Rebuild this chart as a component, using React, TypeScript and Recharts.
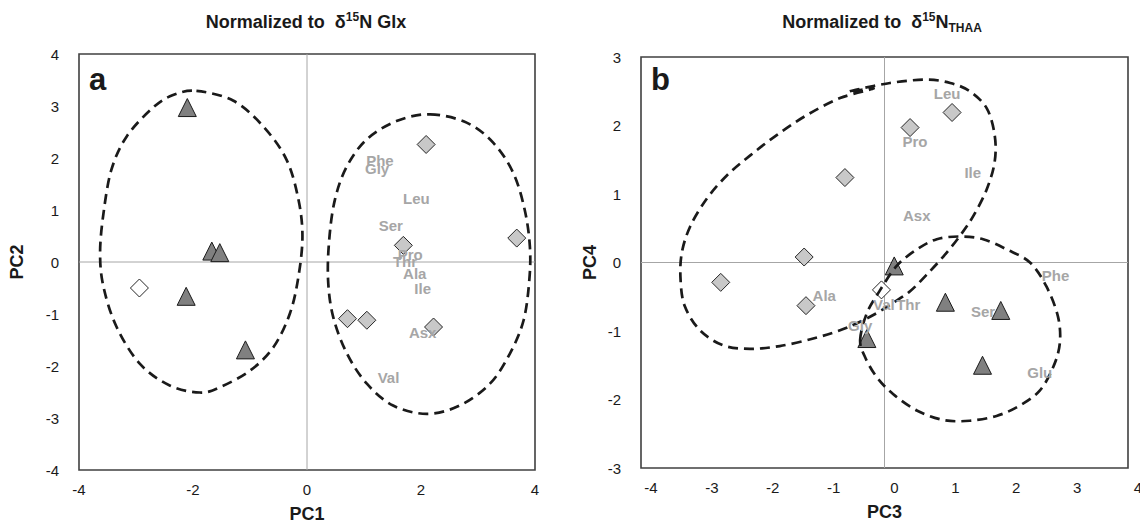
import React from 'react';
import { ScatterChart, Scatter, XAxis, YAxis, ReferenceLine, ReferenceArea, Label } from 'recharts';

type Pt = { x: number; y: number };
type Named = Pt & { name: string };

const FONT = 'Arial, "Liberation Sans", Helvetica, sans-serif';

// panel a — PC1 vs PC2, normalized to d15N Glx
const A_X_TICKS = [-4, -2, 0, 2, 4];
const A_Y_TICKS = [-4, -3, -2, -1, 0, 1, 2, 3, 4];
const A_TRIANGLES: Pt[] = [
  { x: -2.1, y: 2.97 },
  { x: -1.67, y: 0.21 },
  { x: -1.53, y: 0.18 },
  { x: -2.12, y: -0.66 },
  { x: -1.08, y: -1.69 },
];
const A_OPEN: Pt[] = [{ x: -2.94, y: -0.5 }];
const A_DIAMONDS: Pt[] = [
  { x: 2.09, y: 2.26 },
  { x: 3.68, y: 0.46 },
  { x: 1.69, y: 0.32 },
  { x: 0.71, y: -1.09 },
  { x: 1.05, y: -1.12 },
  { x: 2.22, y: -1.25 },
];
const A_LABELS: Named[] = [
  { name: 'Phe', x: 1.28, y: 1.95 },
  { name: 'Gly', x: 1.23, y: 1.8 },
  { name: 'Leu', x: 1.92, y: 1.23 },
  { name: 'Ser', x: 1.47, y: 0.7 },
  { name: 'Pro', x: 1.81, y: 0.14 },
  { name: 'Thr', x: 1.72, y: 0.01 },
  { name: 'Ala', x: 1.89, y: -0.23 },
  { name: 'Ile', x: 2.03, y: -0.51 },
  { name: 'Asx', x: 2.03, y: -1.36 },
  { name: 'Val', x: 1.43, y: -2.22 },
];
const A_LOOP_LEFT: Pt[] = [
  { x: -1.94, y: 3.29 }, { x: -1.29, y: 3.1 }, { x: -0.77, y: 2.61 }, { x: -0.36, y: 1.97 },
  { x: -0.15, y: 1.2 }, { x: -0.08, y: 0.49 }, { x: -0.15, y: -0.28 }, { x: -0.3, y: -0.99 },
  { x: -0.59, y: -1.64 }, { x: -1.0, y: -2.09 }, { x: -1.53, y: -2.41 }, { x: -1.88, y: -2.51 },
  { x: -2.4, y: -2.38 }, { x: -2.93, y: -1.96 }, { x: -3.34, y: -1.25 }, { x: -3.57, y: -0.48 },
  { x: -3.63, y: 0.17 }, { x: -3.57, y: 0.94 }, { x: -3.43, y: 1.78 }, { x: -3.16, y: 2.42 },
  { x: -2.7, y: 2.97 }, { x: -2.35, y: 3.21 },
];
const A_LOOP_RIGHT: Pt[] = [
  { x: 2.16, y: 2.84 }, { x: 2.8, y: 2.68 }, { x: 3.27, y: 2.29 }, { x: 3.62, y: 1.71 },
  { x: 3.82, y: 1.0 }, { x: 3.91, y: 0.3 }, { x: 3.9, y: -0.35 }, { x: 3.8, y: -1.12 },
  { x: 3.56, y: -1.76 }, { x: 3.21, y: -2.34 }, { x: 2.68, y: -2.76 }, { x: 2.1, y: -2.92 },
  { x: 1.51, y: -2.76 }, { x: 1.05, y: -2.34 }, { x: 0.7, y: -1.76 }, { x: 0.46, y: -1.06 },
  { x: 0.37, y: -0.35 }, { x: 0.39, y: 0.43 }, { x: 0.49, y: 1.2 }, { x: 0.7, y: 1.84 },
  { x: 1.05, y: 2.36 }, { x: 1.57, y: 2.71 },
];

// panel b — PC3 vs PC4, normalized to d15N THAA
const B_X_TICKS = [-4, -3, -2, -1, 0, 1, 2, 3, 4];
const B_Y_TICKS = [-3, -2, -1, 0, 1, 2, 3];
const B_TRIANGLES: Pt[] = [
  { x: 0.16, y: -0.05 },
  { x: 1.0, y: -0.58 },
  { x: 1.91, y: -0.7 },
  { x: 1.61, y: -1.5 },
  { x: -0.29, y: -1.11 },
];
const B_OPEN: Pt[] = [{ x: -0.05, y: -0.4 }];
const B_DIAMONDS: Pt[] = [
  { x: -0.65, y: 1.24 },
  { x: -1.32, y: 0.08 },
  { x: -2.69, y: -0.29 },
  { x: -1.29, y: -0.63 },
  { x: 0.42, y: 1.97 },
  { x: 1.11, y: 2.19 },
];
const B_LABELS: Named[] = [
  { name: 'Leu', x: 1.03, y: 2.46 },
  { name: 'Pro', x: 0.5, y: 1.76 },
  { name: 'Ile', x: 1.45, y: 1.32 },
  { name: 'Asx', x: 0.53, y: 0.68 },
  { name: 'Phe', x: 2.81, y: -0.19 },
  { name: 'Val', x: -0.01, y: -0.61 },
  { name: 'Thr', x: 0.39, y: -0.61 },
  { name: 'Ser', x: 1.62, y: -0.72 },
  { name: 'Glu', x: 2.55, y: -1.61 },
  { name: 'Gly', x: -0.4, y: -0.92 },
  { name: 'Ala', x: -0.99, y: -0.48 },
];
const B_LOOP_UPPER: Pt[] = [
  { x: -0.57, y: 2.5 }, { x: 0.09, y: 2.62 }, { x: 0.69, y: 2.67 }, { x: 1.08, y: 2.62 },
  { x: 1.4, y: 2.5 }, { x: 1.68, y: 2.25 }, { x: 1.81, y: 1.86 }, { x: 1.81, y: 1.47 },
  { x: 1.68, y: 1.07 }, { x: 1.46, y: 0.68 }, { x: 1.24, y: 0.39 }, { x: 0.97, y: 0.09 },
  { x: 0.69, y: -0.18 }, { x: 0.42, y: -0.42 }, { x: 0.14, y: -0.59 }, { x: -0.13, y: -0.74 },
  { x: -0.46, y: -0.89 }, { x: -0.73, y: -0.99 }, { x: -1.17, y: -1.11 }, { x: -1.72, y: -1.22 },
  { x: -2.21, y: -1.26 }, { x: -2.65, y: -1.21 }, { x: -3.03, y: -0.99 }, { x: -3.28, y: -0.64 },
  { x: -3.35, y: -0.25 }, { x: -3.33, y: 0.14 }, { x: -3.19, y: 0.53 }, { x: -2.92, y: 0.93 },
  { x: -2.59, y: 1.27 }, { x: -2.21, y: 1.56 }, { x: -1.77, y: 1.86 }, { x: -1.28, y: 2.15 },
  { x: -0.73, y: 2.4 }, { x: -0.18, y: 2.54 },
];
const B_LOOP_LOWER: Pt[] = [
  { x: -0.4, y: -1.13 }, { x: -0.29, y: -0.74 }, { x: -0.07, y: -0.4 }, { x: 0.2, y: -0.05 },
  { x: 0.53, y: 0.19 }, { x: 0.86, y: 0.34 }, { x: 1.24, y: 0.38 }, { x: 1.62, y: 0.34 },
  { x: 2.01, y: 0.19 }, { x: 2.39, y: 0.0 }, { x: 2.66, y: -0.35 }, { x: 2.85, y: -0.79 },
  { x: 2.88, y: -1.18 }, { x: 2.77, y: -1.53 }, { x: 2.55, y: -1.87 }, { x: 2.22, y: -2.09 },
  { x: 1.84, y: -2.24 }, { x: 1.4, y: -2.31 }, { x: 0.97, y: -2.3 }, { x: 0.53, y: -2.16 },
  { x: 0.14, y: -1.92 }, { x: -0.13, y: -1.67 }, { x: -0.32, y: -1.38 },
];

// closed Catmull-Rom curve so the hand-drawn loops come out smooth
function smoothClosed(context: any) {
  let pts: number[][] = [];
  return {
    areaStart() {},
    areaEnd() {},
    lineStart() {
      pts = [];
    },
    point(x: number, y: number) {
      pts.push([+x, +y]);
    },
    lineEnd() {
      const n = pts.length;
      if (!n) return;
      context.moveTo(pts[0][0], pts[0][1]);
      for (let i = 0; i < n; i++) {
        const p0 = pts[(i - 1 + n) % n];
        const p1 = pts[i];
        const p2 = pts[(i + 1) % n];
        const p3 = pts[(i + 2) % n];
        context.bezierCurveTo(
          p1[0] + (p2[0] - p0[0]) / 6,
          p1[1] + (p2[1] - p0[1]) / 6,
          p2[0] - (p3[0] - p1[0]) / 6,
          p2[1] - (p3[1] - p1[1]) / 6,
          p2[0],
          p2[1],
        );
      }
      context.closePath();
    },
  };
}

const Triangle = (p: any) => (
  <polygon
    points={`${p.cx},${p.cy - 9} ${p.cx + 9},${p.cy + 9} ${p.cx - 9},${p.cy + 9}`}
    fill="#808080"
    stroke="#1a1a1a"
    strokeWidth={1}
  />
);

const diamond = (fill: string) => (p: any) => (
  <polygon
    points={`${p.cx},${p.cy - 9} ${p.cx + 9},${p.cy} ${p.cx},${p.cy + 9} ${p.cx - 9},${p.cy}`}
    fill={fill}
    stroke="#262626"
    strokeWidth={1}
  />
);

const AminoLabel = (p: any) => (
  <text
    x={p.cx}
    y={p.cy}
    textAnchor="middle"
    dominantBaseline="central"
    fill="#a6a6a6"
    fontSize={15}
    fontWeight="bold"
    fontFamily={FONT}
  >
    {p.payload?.name}
  </text>
);

const NoDot = () => <g />;

const xTick = (shift: number) => (p: any) => (
  <text x={p.x + shift} y={p.y + 19} textAnchor="middle" dominantBaseline="central" fontSize={15} fill="#1a1a1a" fontFamily={FONT}>
    {p.payload.value}
  </text>
);

const yTick = (p: any) => (
  <text x={p.x - 20} y={p.y} textAnchor="end" dominantBaseline="central" fontSize={15} fill="#1a1a1a" fontFamily={FONT}>
    {p.payload.value}
  </text>
);

const loopLine = { stroke: '#1a1a1a', strokeWidth: 2.7, strokeDasharray: '10 6' };
const axisTitle = { fontSize: 18, fontWeight: 'bold', fill: '#1a1a1a', fontFamily: FONT, textAnchor: 'middle' } as any;

interface PanelProps {
  xTicks: number[];
  yTicks: number[];
  xLabel: string;
  yLabel: string;
  triangles: Pt[];
  open: Pt[];
  diamonds: Pt[];
  labels: Named[];
  loops: Pt[][];
  margin: { top: number; right: number; bottom: number; left: number };
  tickShift: number;
  yLabelOffset: number;
}

function Panel(props: PanelProps) {
  const { xTicks, yTicks } = props;
  const xMin = xTicks[0];
  const xMax = xTicks[xTicks.length - 1];
  const yMin = yTicks[0];
  const yMax = yTicks[yTicks.length - 1];
  return (
    <ScatterChart width={570} height={527} margin={props.margin}>
      <XAxis
        type="number"
        dataKey="x"
        domain={[xMin, xMax]}
        ticks={xTicks}
        interval={0}
        axisLine={false}
        tickLine={false}
        tickSize={0}
        tickMargin={0}
        height={30}
        tick={xTick(props.tickShift)}
        allowDataOverflow
      >
        <Label value={props.xLabel} position="bottom" offset={7} style={axisTitle} />
      </XAxis>
      <YAxis
        type="number"
        dataKey="y"
        domain={[yMin, yMax]}
        ticks={yTicks}
        interval={0}
        axisLine={false}
        tickLine={false}
        tickSize={0}
        tickMargin={0}
        width={40}
        tick={yTick}
        allowDataOverflow
      >
        <Label value={props.yLabel} angle={-90} position="left" offset={props.yLabelOffset} style={axisTitle} />
      </YAxis>
      <ReferenceLine x={0} stroke="#a6a6a6" strokeWidth={1} />
      <ReferenceLine y={0} stroke="#a6a6a6" strokeWidth={1} />
      <ReferenceArea x1={xMin} x2={xMax} y1={yMin} y2={yMax} fill="none" fillOpacity={0} stroke="#404040" strokeWidth={1.6} />
      <Scatter data={props.triangles} shape={Triangle} isAnimationActive={false} />
      <Scatter data={props.open} shape={diamond('#ffffff')} isAnimationActive={false} />
      <Scatter data={props.diamonds} shape={diamond('#c8c8c8')} isAnimationActive={false} />
      {props.loops.map((loop, i) => (
        <Scatter
          key={i}
          data={loop}
          shape={NoDot}
          line={loopLine}
          lineJointType={smoothClosed as any}
          isAnimationActive={false}
        />
      ))}
      <Scatter data={props.labels} shape={AminoLabel} isAnimationActive={false} />
    </ScatterChart>
  );
}

export default function App() {
  return (
    <div style={{ position: 'absolute', left: 0, top: 0, width: 1140, height: 527, background: '#fff', overflow: 'hidden' }}>
      <div style={{ position: 'absolute', left: 0, top: 0 }}>
        <Panel
          xTicks={A_X_TICKS}
          yTicks={A_Y_TICKS}
          xLabel="PC1"
          yLabel="PC2"
          triangles={A_TRIANGLES}
          open={A_OPEN}
          diamonds={A_DIAMONDS}
          labels={A_LABELS}
          loops={[A_LOOP_LEFT, A_LOOP_RIGHT]}
          margin={{ top: 54, right: 35, bottom: 27, left: 39 }}
          tickShift={0}
          yLabelOffset={22}
        />
      </div>
      <div style={{ position: 'absolute', left: 570, top: 0 }}>
        <Panel
          xTicks={B_X_TICKS}
          yTicks={B_Y_TICKS}
          xLabel="PC3"
          yLabel="PC4"
          triangles={B_TRIANGLES}
          open={B_OPEN}
          diamonds={B_DIAMONDS}
          labels={B_LABELS}
          loops={[B_LOOP_UPPER, B_LOOP_LOWER]}
          margin={{ top: 57, right: 12, bottom: 29, left: 31 }}
          tickShift={10}
          yLabelOffset={11}
        />
      </div>
      <svg width={1140} height={527} style={{ position: 'absolute', left: 0, top: 0, pointerEvents: 'none' }}>
        <g fontFamily={FONT} fontWeight="bold" fill="#1a1a1a">
          <text x={306} y={28} textAnchor="middle" fontSize={18} style={{ whiteSpace: 'pre' }}>
            {'Normalized to  δ'}
            <tspan dy={-7} fontSize={12}>15</tspan>
            <tspan dy={7}>N Glx</tspan>
          </text>
          <text x={882} y={28} textAnchor="middle" fontSize={18} style={{ whiteSpace: 'pre' }}>
            {'Normalized to  δ'}
            <tspan dy={-7} fontSize={12}>15</tspan>
            <tspan dy={7}>N</tspan>
            <tspan dy={4} fontSize={12}>THAA</tspan>
          </text>
          <text x={89} y={90} fontSize={31}>a</text>
          <text x={651} y={90} fontSize={31}>b</text>
        </g>
      </svg>
    </div>
  );
}
